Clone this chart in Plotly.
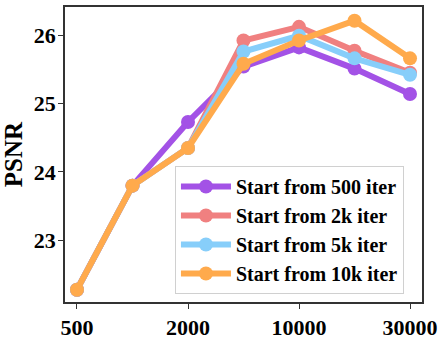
import plotly.graph_objects as go

# iteration checkpoints (evenly spaced on the x axis)
iters = ["500", "1000", "2000", "5000", "10000", "20000", "30000"]
tick_iters = ["500", "2000", "10000", "30000"]

psnr_500 = [22.28, 23.80, 24.73, 25.54, 25.82, 25.51, 25.14]
psnr_2k = [22.28, 23.80, 24.35, 25.92, 26.12, 25.77, 25.45]
psnr_5k = [22.28, 23.80, 24.35, 25.76, 25.99, 25.66, 25.42]
psnr_10k = [22.28, 23.80, 24.35, 25.58, 25.92, 26.21, 25.66]

series = [
    ("Start from 500 iter", psnr_500, "#A352E6"),
    ("Start from 2k iter", psnr_2k, "#F08080"),
    ("Start from 5k iter", psnr_5k, "#87CEFA"),
    ("Start from 10k iter", psnr_10k, "#FFAA4C"),
]

font = "Liberation Serif, Times New Roman, serif"

fig = go.Figure()
for name, vals, color in series:
    fig.add_trace(go.Scatter(
        x=iters,
        y=vals,
        name=name,
        mode="lines+markers",
        line=dict(color=color, width=6),
        marker=dict(color=color, size=14),
    ))

fig.update_layout(
    width=448,
    height=339,
    margin=dict(l=65, r=26, t=7, b=37),
    plot_bgcolor="white",
    paper_bgcolor="white",
    font=dict(family=font, color="black"),
    legend=dict(
        x=0.308,
        y=0.027,
        xanchor="left",
        yanchor="bottom",
        bgcolor="rgba(255,255,255,0.85)",
        bordercolor="#d0d0d0",
        borderwidth=1,
        itemwidth=50,
        font=dict(family=font, size=20, color="black", weight="bold"),
        tracegroupgap=0,
    ),
)

fig.update_xaxes(
    type="category",
    range=[-0.216, 6.216],
    tickvals=tick_iters,
    ticktext=tick_iters,
    ticks="outside",
    ticklen=5,
    tickcolor="#333",
    showgrid=False,
    showline=True,
    linecolor="#333",
    linewidth=1.5,
    mirror=True,
    automargin=False,
    tickfont=dict(family=font, size=22, color="black", weight="bold"),
)

fig.update_yaxes(
    range=[22.10, 26.41],
    tickvals=[23, 24, 25, 26],
    ticks="outside",
    ticklen=5,
    tickcolor="#333",
    showgrid=False,
    zeroline=False,
    showline=True,
    linecolor="#333",
    linewidth=1.5,
    mirror=True,
    automargin=False,
    ticklabelstandoff=-2,
    tickfont=dict(family=font, size=22, color="black", weight="bold"),
    title=dict(text="PSNR", standoff=4,
               font=dict(family=font, size=25, color="black", weight="bold")),
)

# the page body has a default 8px margin; drop it so the figure sits at 0,0
fig.write_html("out.html", config={"displayModeBar": False},
               post_script="document.body.style.margin='0';")
